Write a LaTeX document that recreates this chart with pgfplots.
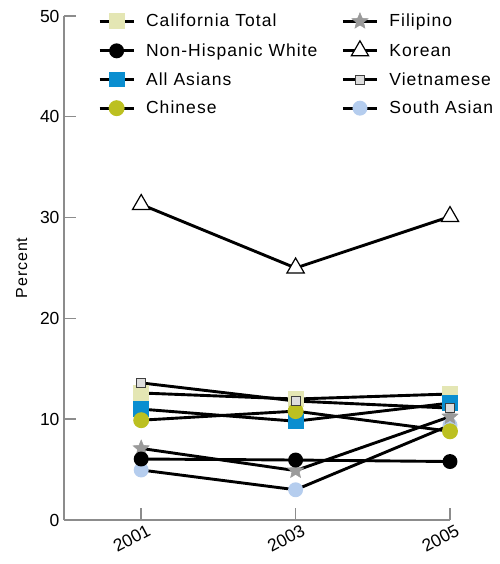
\documentclass[border=0pt]{standalone}
\usepackage{pgfplots}
\pgfplotsset{compat=1.18}
\usepackage{fontspec}
\setmainfont{Liberation Sans}[LetterSpace=6]
\newfontfamily\tickfont{Liberation Sans}
\usetikzlibrary{plotmarks}
\definecolor{ctcol}{HTML}{E4E6B4}
\definecolor{aacol}{HTML}{0A8ED0}
\definecolor{chcol}{HTML}{BCC021}
\definecolor{ficol}{HTML}{9A9A9A}
\definecolor{sacol}{HTML}{B5CDEE}
\definecolor{vicol}{HTML}{DDDDDD}
\definecolor{axcol}{HTML}{8C8C8C}
\pgfdeclareplotmark{fstar}{%
  \pgfpathmoveto{\pgfqpointpolar{90}{\pgfplotmarksize}}%
  \pgfpathlineto{\pgfqpointpolar{126}{0.45\pgfplotmarksize}}%
  \pgfpathlineto{\pgfqpointpolar{162}{\pgfplotmarksize}}%
  \pgfpathlineto{\pgfqpointpolar{198}{0.45\pgfplotmarksize}}%
  \pgfpathlineto{\pgfqpointpolar{234}{\pgfplotmarksize}}%
  \pgfpathlineto{\pgfqpointpolar{270}{0.45\pgfplotmarksize}}%
  \pgfpathlineto{\pgfqpointpolar{306}{\pgfplotmarksize}}%
  \pgfpathlineto{\pgfqpointpolar{342}{0.45\pgfplotmarksize}}%
  \pgfpathlineto{\pgfqpointpolar{18}{\pgfplotmarksize}}%
  \pgfpathlineto{\pgfqpointpolar{54}{0.45\pgfplotmarksize}}%
  \pgfpathclose
  \pgfusepathqfillstroke}
\begin{document}
\begin{tikzpicture}
\begin{axis}[
  scale only axis, width=386bp, height=504bp,
  xmin=2000, xmax=2005, ymin=0, ymax=50,
  clip=false,
  axis x line*=bottom, axis y line*=left,
  xtick={2001,2003,2005}, ytick={0,10,20,30,40,50},
  tick align=inside, major tick length=12bp,
  axis line style={axcol, line width=1.6bp},
  tick style={axcol, line width=1.4bp},
  /pgf/number format/assume math mode=true,
  /pgf/number format/1000 sep={},
  tick label style={font=\tickfont\fontsize{17.5bp}{19bp}\selectfont},
  xticklabel style={rotate=28, anchor=north east, xshift=6bp, yshift=-2bp},
  yticklabel style={xshift=-1bp},
  ylabel={Percent},
  ylabel shift=6bp,
  ylabel style={font=\fontsize{16bp}{18bp}\selectfont},
  every axis plot/.append style={black, line width=2.9bp},
  legend columns=2,
  legend cell align=left,
  legend image code/.code={\draw[mark repeat=2,mark phase=2,#1] plot coordinates {(0bp,0bp) (17bp,0bp) (34bp,0bp)};},
  legend style={at={(axis description cs:0,1)}, anchor=north west, xshift=31bp, yshift=6bp,
    draw=none, fill=none, font=\fontsize{17.5bp}{19bp}\selectfont, row sep=10.5bp,
    /tikz/every even column/.append style={column sep=22bp},
    /tikz/every odd column/.append style={column sep=9bp}},
]
% plotting order (z-order)
\addplot[mark=*, mark size=6bp, mark options={solid, fill=sacol, draw=sacol}, forget plot] coordinates {(2001,4.96) (2003,3.0) (2005,9.4)};
\addplot[mark=fstar, mark size=8.5bp, mark options={solid, fill=ficol, draw=ficol, line width=0.5bp}, forget plot] coordinates {(2001,7.1) (2003,4.9) (2005,10.25)};
\addplot[mark=*, mark size=6bp, mark options={solid, fill=black, draw=black}, forget plot] coordinates {(2001,6.05) (2003,5.95) (2005,5.8)};
\addplot[mark=square*, mark size=6.5bp, mark options={solid, fill=ctcol, draw=ctcol}, forget plot] coordinates {(2001,12.6) (2003,12.0) (2005,12.5)};
\addplot[mark=square*, mark size=6.5bp, mark options={solid, fill=aacol, draw=aacol}, forget plot] coordinates {(2001,11.0) (2003,9.8) (2005,11.6)};
\addplot[mark=*, mark size=6.5bp, mark options={solid, fill=chcol, draw=chcol}, forget plot] coordinates {(2001,9.9) (2003,10.8) (2005,8.8)};
\addplot[mark=square*, mark size=4.5bp, mark options={solid, fill=vicol, draw=darkgray, line width=1bp}, forget plot] coordinates {(2001,13.6) (2003,11.8) (2005,11.1)};
\addplot[mark=triangle*, mark size=10bp, mark options={solid, fill=white, draw=black, line width=1.2bp}, forget plot] coordinates {(2001,31.3) (2003,25.0) (2005,30.1)};
% legend in row-major order
\addlegendimage{black, line width=2.9bp, mark=square*, mark size=6.5bp, mark options={solid, fill=ctcol, draw=ctcol}}
\addlegendentry{California Total}
\addlegendimage{black, line width=2.9bp, mark=fstar, mark size=8.5bp, mark options={solid, fill=ficol, draw=ficol, line width=0.5bp}}
\addlegendentry{Filipino}
\addlegendimage{black, line width=2.9bp, mark=*, mark size=6bp, mark options={solid, fill=black, draw=black}}
\addlegendentry{Non-Hispanic White}
\addlegendimage{black, line width=2.9bp, mark=triangle*, mark size=10bp, mark options={solid, fill=white, draw=black, line width=1.2bp}}
\addlegendentry{Korean}
\addlegendimage{black, line width=2.9bp, mark=square*, mark size=6.5bp, mark options={solid, fill=aacol, draw=aacol}}
\addlegendentry{All Asians}
\addlegendimage{black, line width=2.9bp, mark=square*, mark size=4.5bp, mark options={solid, fill=vicol, draw=darkgray, line width=1bp}}
\addlegendentry{Vietnamese}
\addlegendimage{black, line width=2.9bp, mark=*, mark size=6.5bp, mark options={solid, fill=chcol, draw=chcol}}
\addlegendentry{Chinese}
\addlegendimage{black, line width=2.9bp, mark=*, mark size=6bp, mark options={solid, fill=sacol, draw=sacol}}
\addlegendentry{South Asian}
\end{axis}
\pgfresetboundingbox
\path (-64bp,-44bp) rectangle (436bp,520bp);
\end{tikzpicture}
\end{document}
